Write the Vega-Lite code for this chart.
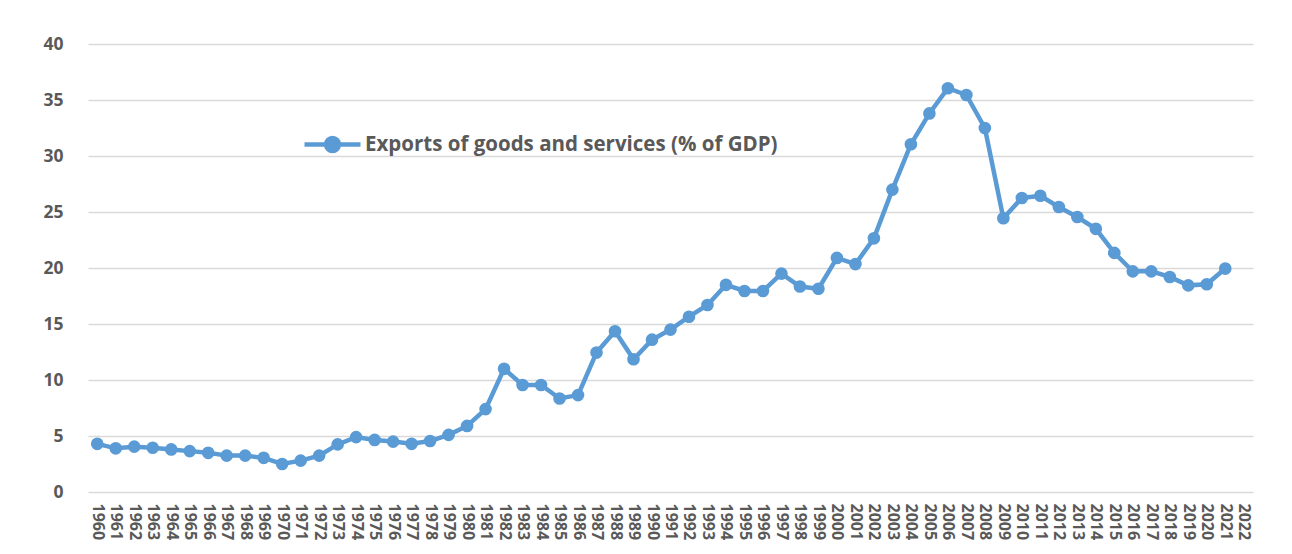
{
  "$schema": "https://vega.github.io/schema/vega-lite/v6.json",
  "width": 1165,
  "height": 448,
  "autosize": {"type": "none"},
  "padding": {"left": 88, "top": 44, "right": 39, "bottom": 62},
  "background": "white",
  "config": {
    "view": {"stroke": null},
    "font": "Open Sans"
  },
  "data": {
    "values": [
      {"year": 1960, "value": 4.3},
      {"year": 1961, "value": 3.9},
      {"year": 1962, "value": 4.05},
      {"year": 1963, "value": 3.95},
      {"year": 1964, "value": 3.8},
      {"year": 1965, "value": 3.65},
      {"year": 1966, "value": 3.5},
      {"year": 1967, "value": 3.25},
      {"year": 1968, "value": 3.25},
      {"year": 1969, "value": 3.05},
      {"year": 1970, "value": 2.5},
      {"year": 1971, "value": 2.8},
      {"year": 1972, "value": 3.25},
      {"year": 1973, "value": 4.25},
      {"year": 1974, "value": 4.9},
      {"year": 1975, "value": 4.65},
      {"year": 1976, "value": 4.5},
      {"year": 1977, "value": 4.3},
      {"year": 1978, "value": 4.55},
      {"year": 1979, "value": 5.1},
      {"year": 1980, "value": 5.9},
      {"year": 1981, "value": 7.4},
      {"year": 1982, "value": 11.0},
      {"year": 1983, "value": 9.55},
      {"year": 1984, "value": 9.55},
      {"year": 1985, "value": 8.35},
      {"year": 1986, "value": 8.65},
      {"year": 1987, "value": 12.45},
      {"year": 1988, "value": 14.35},
      {"year": 1989, "value": 11.85},
      {"year": 1990, "value": 13.6},
      {"year": 1991, "value": 14.5},
      {"year": 1992, "value": 15.65},
      {"year": 1993, "value": 16.7},
      {"year": 1994, "value": 18.5},
      {"year": 1995, "value": 17.95},
      {"year": 1996, "value": 17.95},
      {"year": 1997, "value": 19.5},
      {"year": 1998, "value": 18.35},
      {"year": 1999, "value": 18.15},
      {"year": 2000, "value": 20.9},
      {"year": 2001, "value": 20.35},
      {"year": 2002, "value": 22.65},
      {"year": 2003, "value": 27.0},
      {"year": 2004, "value": 31.05},
      {"year": 2005, "value": 33.8},
      {"year": 2006, "value": 36.05},
      {"year": 2007, "value": 35.45},
      {"year": 2008, "value": 32.5},
      {"year": 2009, "value": 24.45},
      {"year": 2010, "value": 26.25},
      {"year": 2011, "value": 26.45},
      {"year": 2012, "value": 25.45},
      {"year": 2013, "value": 24.55},
      {"year": 2014, "value": 23.5},
      {"year": 2015, "value": 21.35},
      {"year": 2016, "value": 19.7},
      {"year": 2017, "value": 19.7},
      {"year": 2018, "value": 19.2},
      {"year": 2019, "value": 18.45},
      {"year": 2020, "value": 18.55},
      {"year": 2021, "value": 19.95}
    ]
  },
  "mark": {
    "type": "line",
    "strokeWidth": 4.5,
    "point": {"filled": true, "size": 160, "color": "#5B9BD5"}
  },
  "encoding": {
    "x": {
      "field": "year",
      "type": "quantitative",
      "scale": {"domain": [1959.5, 2022.5], "nice": false, "zero": false},
      "axis": {
        "title": null,
        "values": [1960,1961,1962,1963,1964,1965,1966,1967,1968,1969,1970,1971,1972,1973,1974,1975,1976,1977,1978,1979,1980,1981,1982,1983,1984,1985,1986,1987,1988,1989,1990,1991,1992,1993,1994,1995,1996,1997,1998,1999,2000,2001,2002,2003,2004,2005,2006,2007,2008,2009,2010,2011,2012,2013,2014,2015,2016,2017,2018,2019,2020,2021,2022],
        "format": "d",
        "labelAngle": 90,
        "labelAlign": "left",
        "labelBaseline": "middle",
        "labelFont": "Open Sans",
        "labelFontWeight": "bold",
        "labelFontSize": 16,
        "labelColor": "#595959",
        "labelPadding": 11,
        "labelOverlap": false,
        "labelFlush": false,
        "ticks": false,
        "domain": false,
        "grid": false
      }
    },
    "y": {
      "field": "value",
      "type": "quantitative",
      "scale": {"domain": [0, 40], "nice": false},
      "axis": {
        "title": null,
        "values": [0, 5, 10, 15, 20, 25, 30, 35, 40],
        "labelFont": "Open Sans",
        "labelFontWeight": "bold",
        "labelFontSize": 17.5,
        "labelColor": "#595959",
        "labelPadding": 25,
        "ticks": false,
        "domain": false,
        "grid": true,
        "gridColor": "#D9D9D9",
        "gridWidth": 1.3
      }
    },
    "color": {
      "datum": "Exports of goods and services (% of GDP)",
      "type": "nominal",
      "scale": {"range": ["#5B9BD5"]},
      "legend": {
        "title": null,
        "orient": "none",
        "legendX": 214,
        "legendY": 70,
        "symbolType": "M-1,0H1M0.23,0A0.23,0.23,0,1,1,-0.23,0A0.23,0.23,0,1,1,0.23,0Z",
        "symbolSize": 3136,
        "symbolStrokeWidth": 4.5,
        "symbolStrokeColor": "#5B9BD5",
        "symbolFillColor": "#5B9BD5",
        "labelFont": "Open Sans",
        "labelFontWeight": "bold",
        "labelFontSize": 20.5,
        "labelColor": "#595959",
        "labelOffset": 2,
        "labelLimit": 700
      }
    }
  }
}
